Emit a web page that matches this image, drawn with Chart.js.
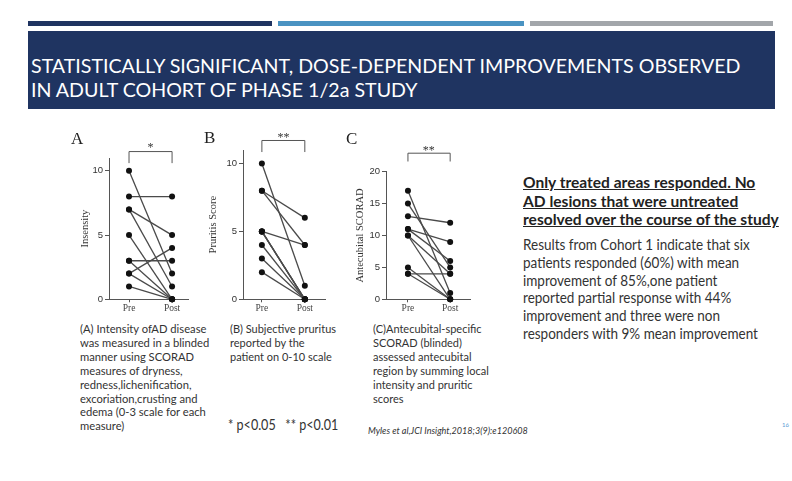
<!DOCTYPE html>
<html><head><meta charset="utf-8">
<script src="https://cdn.jsdelivr.net/npm/chart.js@4.4.1/dist/chart.umd.min.js"></script>
<style>
html,body{margin:0;padding:0;background:#fff;}
#slide{position:relative;width:792px;height:481px;overflow:hidden;background:#fff;}
.bar{position:absolute;top:21px;height:5px;}
#titlebox{position:absolute;left:28px;top:31px;width:747px;height:78px;background:#1f3461;}
.t{position:absolute;white-space:pre;transform-origin:0 0;line-height:normal;}
canvas{position:absolute;}
</style></head>
<body>
<div id="slide">
  <div class="bar" style="left:28px;width:244px;background:#1f3461"></div>
  <div class="bar" style="left:278px;width:246px;background:#4a93c2"></div>
  <div class="bar" style="left:530px;width:243px;background:#a2a6aa"></div>
  <div id="titlebox"></div>
  <canvas id="cA" width="135" height="195" style="left:60px;top:125px;width:135px;height:195px"></canvas>
  <canvas id="cB" width="130" height="195" style="left:200px;top:125px;width:130px;height:195px"></canvas>
  <canvas id="cC" width="140" height="195" style="left:335px;top:125px;width:140px;height:195px"></canvas>
</div>
<script>
// ---- data ----
const groups = ['Pre', 'Post'];
const preA  = [10, 8, 7, 7, 5, 3, 3, 2, 2, 1];
const postA = [ 2, 8, 5, 1, 0, 3, 0, 4, 0, 0];
const preB  = [10, 8, 8, 5, 5, 5, 5, 4, 3, 2];
const postB = [ 1, 6, 4, 4, 0, 0, 0, 0, 0, 0];
const preC  = [17, 15, 13, 11, 11, 10, 10, 5, 4, 4];
const postC = [ 1,  5, 12,  9,  6,  4,  0, 0, 4, 0];
const ticksAB = [0, 5, 10];
const ticksC  = [0, 5, 10, 15, 20];

const slide = document.getElementById('slide');

function panel(id, pre, post, o) {
  const datasets = pre.map((p, i) => ({
    data: [{x: 0, y: p}, {x: 1, y: post[i]}],
    showLine: true,
    borderColor: '#4a4a4a',
    borderWidth: 1.3,
    pointRadius: 3,
    pointBackgroundColor: '#111',
    pointBorderColor: '#111',
    pointBorderWidth: 0,
    clip: false
  }));
  const axisCol = '#555';
  const bracket = {
    id: 'bracket',
    afterDraw(chart) {
      const {ctx, scales: {x, y}} = chart;
      const x0 = x.getPixelForValue(0), x1 = x.getPixelForValue(1);
      const yt = y.getPixelForValue(o.bTop), yd = y.getPixelForValue(o.bDrop);
      ctx.save();
      ctx.strokeStyle = '#555'; ctx.lineWidth = 1;
      ctx.beginPath();
      ctx.moveTo(x0, yd); ctx.lineTo(x0, yt); ctx.lineTo(x1, yt); ctx.lineTo(x1, yd);
      ctx.stroke();
      ctx.restore();
    }
  };
  new Chart(document.getElementById(id), {
    type: 'scatter',
    data: {datasets},
    plugins: [bracket],
    options: {
      responsive: false,
      animation: false,
      events: [],
      layout: {padding: {top: o.pt, right: o.pr, left: 0, bottom: 0}},
      plugins: {legend: {display: false}, tooltip: {enabled: false}},
      scales: {
        x: {
          type: 'linear', min: o.xmin, max: o.xmax,
          afterBuildTicks: s => { s.ticks = [{value: 0}, {value: 1}]; },
          afterFit: s => { s.height = o.xh; },
          ticks: {callback: v => groups[v], font: {family: 'Liberation Serif', size: 9.5}, color: '#444', padding: 0, autoSkip: false, maxRotation: 0},
          grid: {display: true, drawOnChartArea: false, tickLength: 3, color: axisCol},
          border: {display: true, color: axisCol, width: 1}
        },
        y: {
          min: 0, max: o.ymax,
          afterBuildTicks: s => { s.ticks = o.yticks.map(v => ({value: v})); },
          afterFit: s => { s.width = o.yw; },
          ticks: {font: {family: 'Liberation Sans', size: 9.5}, color: '#333', padding: 2},
          grid: {display: true, drawOnChartArea: false, tickLength: 4, color: axisCol},
          border: {display: true, color: axisCol, width: 1},
          title: {display: true, text: o.title, font: {family: 'Liberation Serif', size: 10.5}, color: '#333', padding: {top: o.tp, bottom: 0}}
        }
      }
    }
  });
}

panel('cA', preA, postA, {pt: 33, pr: 7, xh: 20.7, yw: 49, xmin: -0.465, xmax: 1.37, ymax: 11, yticks: ticksAB, title: 'Insensity', tp: 18.7, bTop: 11.5, bDrop: 10.6});
panel('cB', preB, postB, {pt: 25, pr: 5, xh: 20.7, yw: 43, xmin: -0.44, xmax: 1.47, ymax: 11, yticks: ticksAB, title: 'Pruritis Score', tp: 7, bTop: 11.7, bDrop: 10.85});
panel('cC', preC, postC, {pt: 46.7, pr: 5, xh: 20.7, yw: 51, xmin: -0.52, xmax: 1.47, ymax: 20, yticks: ticksC, title: 'Antecubital SCORAD', tp: 18.7, bTop: 22.9, bDrop: 21.6});

// ---- text ----
function block(b) {
  const els = [];
  b.lines.forEach((ln, i) => {
    const d = document.createElement('div');
    d.className = 't';
    d.style.font = b.font;
    d.style.color = b.color;
    if (b.deco) d.style.textDecoration = b.deco;
    d.style.left = b.x + 'px';
    d.style.top = '0px';
    d.textContent = ln;
    const m = document.createElement('span');
    m.style.display = 'inline-block'; m.style.width = '0'; m.style.height = '0';
    d.appendChild(m);
    slide.appendChild(d);
    const base = m.offsetTop;
    d.style.top = (b.y + i * (b.gap || 0) - base) + 'px';
    els.push(d);
  });
  if (b.w) {
    const s = b.w / els[b.ref || 0].offsetWidth;
    els.forEach(e => e.style.transform = 'scaleX(' + s + ')');
  }
  if (b.center) {
    els.forEach(e => { e.style.left = (b.x - e.offsetWidth / 2) + 'px'; });
  }
}
const sans = '"Lato", "Open Sans", sans-serif';
block({x: 31, y: 73.3, gap: 24, font: '19px ' + sans, color: '#fff',
  lines: ['STATISTICALLY SIGNIFICANT, DOSE-DEPENDENT IMPROVEMENTS OBSERVED', 'IN ADULT COHORT OF PHASE 1/2a STUDY'], w: 709});
block({x: 71, y: 144, font: '17px "Liberation Serif", serif', color: '#222', lines: ['A']});
block({x: 204, y: 142.5, font: '17px "Liberation Serif", serif', color: '#222', lines: ['B']});
block({x: 346, y: 144, font: '17px "Liberation Serif", serif', color: '#222', lines: ['C']});
block({x: 150.5, y: 151, font: '12px "Liberation Serif", serif', color: '#333', lines: ['*'], center: true});
block({x: 283.5, y: 140.5, font: '12px "Liberation Serif", serif', color: '#333', lines: ['**'], center: true});
block({x: 428.8, y: 154, font: '12px "Liberation Serif", serif', color: '#333', lines: ['**'], center: true});
block({x: 80, y: 333, gap: 13.9, font: '12px ' + sans, color: '#333',
  lines: ['(A) Intensity ofAD disease', 'was measured in a blinded', 'manner using SCORAD', 'measures of dryness,', 'redness,lichenification,', 'excoriation,crusting and', 'edema (0-3 scale for each', 'measure)'], w: 126});
block({x: 230, y: 333, gap: 13.9, font: '12px ' + sans, color: '#333',
  lines: ['(B) Subjective pruritus', 'reported by the', 'patient on 0-10 scale'], w: 106});
block({x: 372.7, y: 333, gap: 13.9, font: '12px ' + sans, color: '#333',
  lines: ['(C)Antecubital-specific', 'SCORAD (blinded)', 'assessed antecubital', 'region by summing local', 'intensity and pruritic', 'scores'], w: 109});
block({x: 228, y: 429.5, font: '14.5px ' + sans, color: '#333', lines: ['* p<0.05   ** p<0.01'], w: 110});
block({x: 368, y: 434, font: 'italic 9px ' + sans, color: '#333', lines: ['Myles et al,JCI Insight,2018;3(9):e120608'], w: 160});
block({x: 522.7, y: 188, gap: 18.5, font: 'bold 15px ' + sans, color: '#222', deco: 'underline',
  lines: ['Only treated areas responded. No', 'AD lesions that were untreated', 'resolved over the course of the study'], ref: 2, w: 256});
block({x: 522.7, y: 250, gap: 17.8, font: '14.5px ' + sans, color: '#333',
  lines: ['Results from Cohort 1 indicate that six', 'patients responded (60%) with mean', 'improvement of 85%,one patient', 'reported partial response with 44%', 'improvement and three were non', 'responders with 9% mean improvement'], w: 227});
block({x: 782, y: 427, font: '6px ' + sans, color: '#5b9bd5', lines: ['16']});
</script>
</body></html>
